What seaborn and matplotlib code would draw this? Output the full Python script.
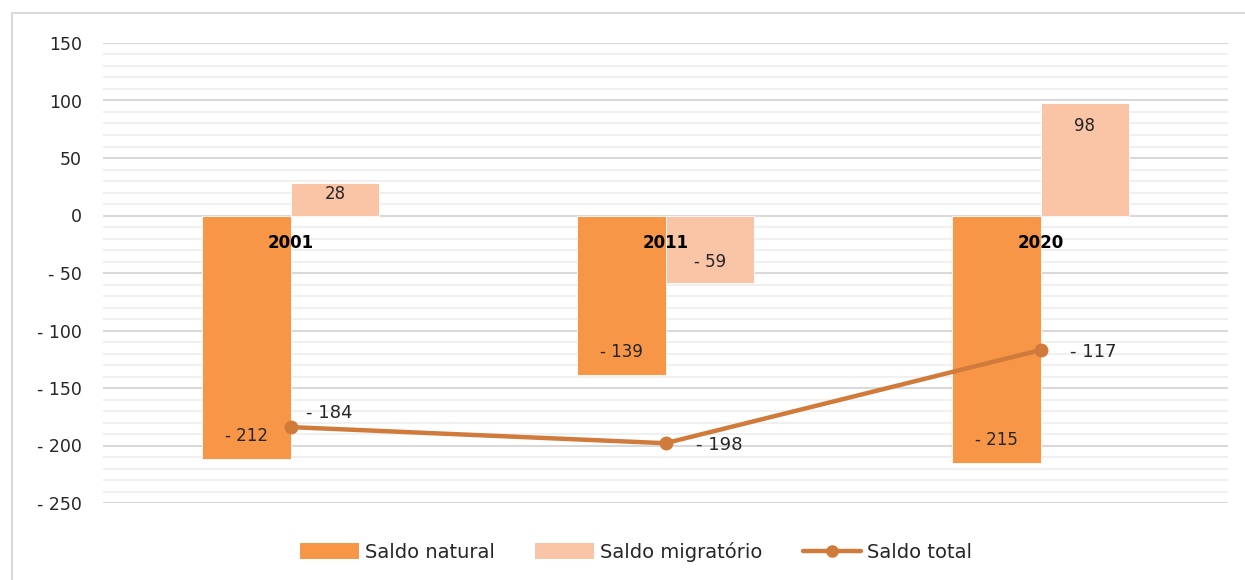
import matplotlib
matplotlib.use("Agg")
import matplotlib.pyplot as plt
import seaborn as sns
import pandas as pd
import numpy as np
from matplotlib.ticker import MultipleLocator, FuncFormatter
from matplotlib.patches import Patch
from matplotlib.lines import Line2D

anos = ["2001", "2011", "2020"]
saldo_natural = [-212, -139, -215]
saldo_migratorio = [28, -59, 98]
saldo_total = [-184, -198, -117]
series_names = ["Saldo natural", "Saldo migratório", "Saldo total"]

sns.set_theme(style="white")
plt.rcParams["font.family"] = ["DejaVu Sans"]

c_nat = "#F79646"
c_mig = "#FAC4A7"
c_tot = "#D07B3B"

df = pd.DataFrame({
    "ano": anos * 2,
    "valor": saldo_natural + saldo_migratorio,
    "serie": [series_names[0]] * 3 + [series_names[1]] * 3,
})

fig = plt.figure(figsize=(12.45, 5.8), dpi=100)
ax = fig.add_axes([103 / 1245, 1 - 503 / 580, 1125 / 1245, 460 / 580])

sns.barplot(data=df, x="ano", y="valor", hue="serie", order=anos,
            hue_order=series_names[:2], palette=[c_nat, c_mig],
            saturation=1, width=0.474, dodge=True, ax=ax, legend=False,
            edgecolor="white", linewidth=0.6, zorder=2)

xpos = np.arange(len(anos))
sns.lineplot(x=xpos, y=saldo_total, ax=ax, color=c_tot, linewidth=3.2,
             marker="o", markersize=10, markeredgewidth=0, zorder=4)

ax.set_ylim(-250, 150)
ax.set_xlim(-0.5, 2.5)
ax.yaxis.set_major_locator(MultipleLocator(50))
ax.yaxis.set_minor_locator(MultipleLocator(10))
ax.grid(axis="y", which="major", color="#D9D9D9", linewidth=1.5, zorder=0)
ax.grid(axis="y", which="minor", color="#F0F0F0", linewidth=1.5, zorder=0)
ax.set_axisbelow(True)
for s in ax.spines.values():
    s.set_visible(False)

def fmt(v, pos=None):
    v = int(round(v))
    return f"- {abs(v)}" if v < 0 else f"{v}"

ax.yaxis.set_major_formatter(FuncFormatter(fmt))
ax.tick_params(axis="y", which="both", length=0, pad=15, labelsize=12.5,
               labelcolor="#262626")
ax.set_xticks([])
ax.set_xlabel("")
ax.set_ylabel("")

# Year labels at the zero axis
for i, a in enumerate(anos):
    ax.text(i, -24, a, ha="center", va="center", fontsize=12,
            fontweight="bold", color="black", zorder=6)

# bar labels (inside end)
bw = 0.474 / 2
for i in range(len(anos)):
    for vals, dx in ((saldo_natural, -bw / 2), (saldo_migratorio, bw / 2)):
        v = vals[i]
        off = min(20, abs(v) * 0.32)
        y = v - np.sign(v) * off
        ax.text(i + dx, y, fmt(v), ha="center", va="center", fontsize=12,
                color="#262626", zorder=6)

# line labels
offs = [(16, 14), (30, -2), (30, -2)]
for i, v in enumerate(saldo_total):
    ax.annotate(fmt(v), (i, v), xytext=offs[i], textcoords="offset pixels",
                ha="left", va="center", fontsize=13, color="#262626",
                zorder=6)

handles = [
    Patch(facecolor=c_nat, edgecolor="none"),
    Patch(facecolor=c_mig, edgecolor="none"),
    Line2D([0], [0], color=c_tot, linewidth=3.2, marker="o", markersize=8),
]
fig.legend(handles, series_names, loc="center", bbox_to_anchor=(0.511, 1 - 552 / 580),
           ncol=3, frameon=False, fontsize=14, handlelength=3.0,
           handleheight=0.9, columnspacing=2.1, handletextpad=0.3,
           labelcolor="#262626")

# outer chart frame (top and left edges visible)
fig.add_artist(Line2D([12 / 1245, 1.0], [1 - 13 / 580, 1 - 13 / 580],
                      transform=fig.transFigure, color="#D9D9D9", linewidth=1.5))
fig.add_artist(Line2D([12 / 1245, 12 / 1245], [0.0, 1 - 13 / 580],
                      transform=fig.transFigure, color="#D9D9D9", linewidth=1.5))

fig.savefig("out.png", dpi=100)
